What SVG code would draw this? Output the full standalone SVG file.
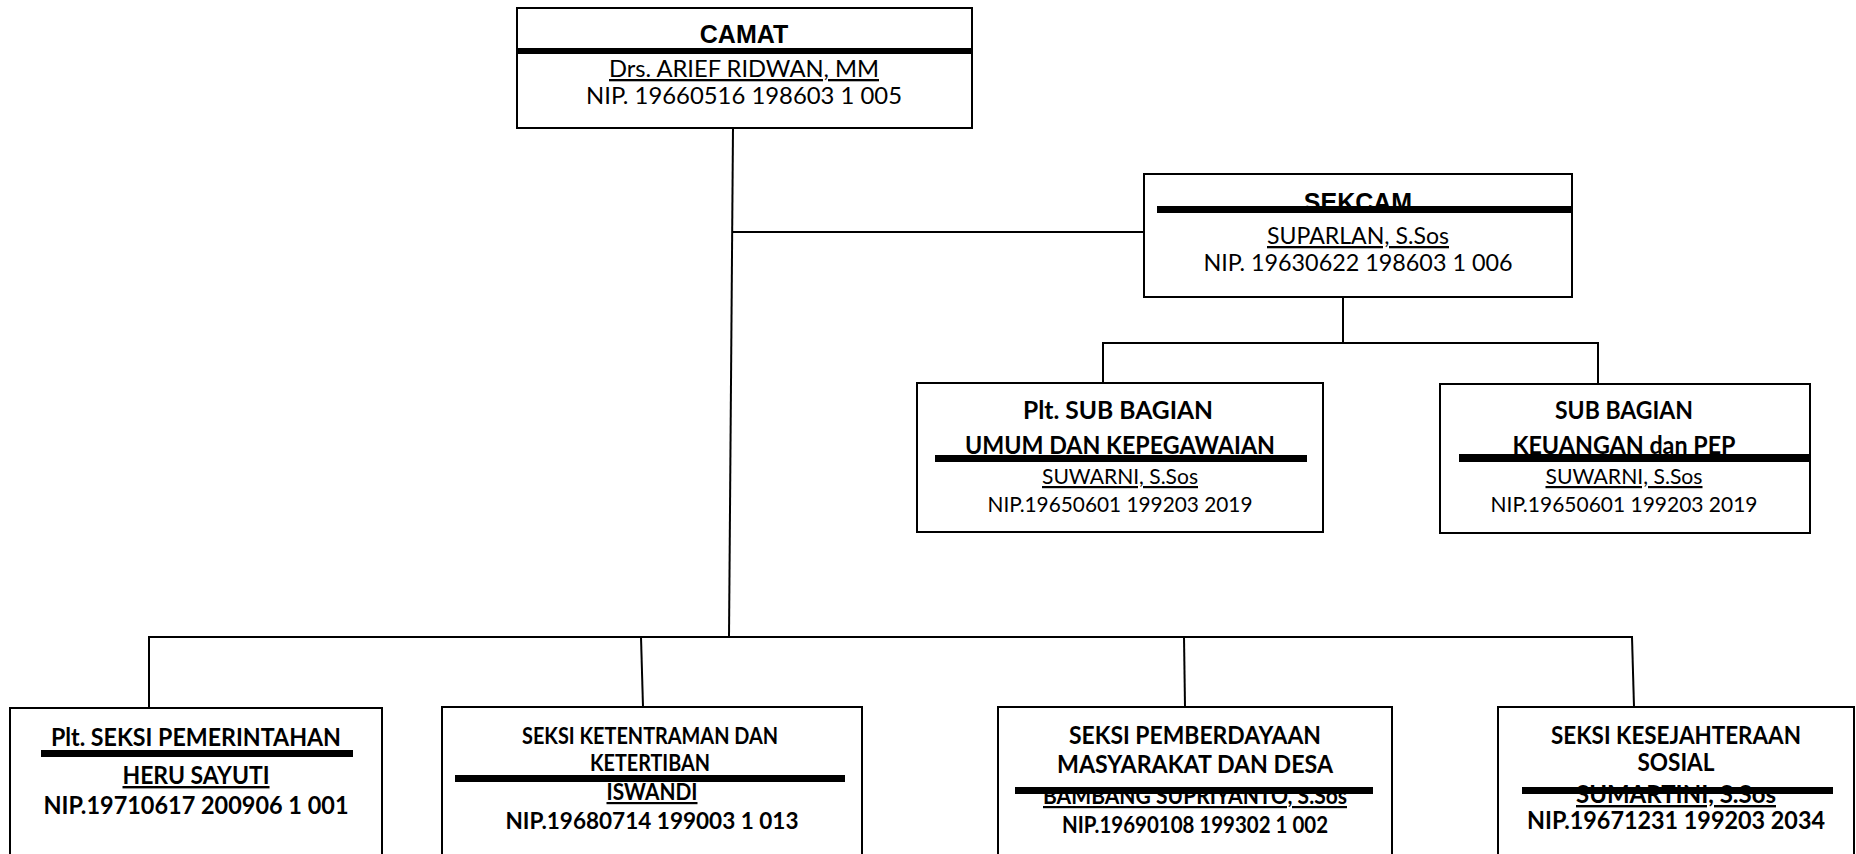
<svg xmlns="http://www.w3.org/2000/svg" width="1856" height="854" viewBox="0 0 1856 854">
<style>
.box{fill:#fff;stroke:#000;stroke-width:2}
.bar{fill:#000}
.conn{stroke:#000;stroke-width:2;fill:none}
.hd{font-family:"Liberation Sans",Arial,sans-serif;font-weight:700;font-size:25px;text-anchor:middle;fill:#000}
.t{font-family:Lato,"Open Sans",sans-serif;text-anchor:middle;fill:#000}
.b{font-weight:700}
.u{text-decoration:underline}
</style>
<rect width="1856" height="854" fill="#fff"/>
<g id="connectors">
<line class="conn" x1="733" y1="128" x2="729" y2="637"/>
<line class="conn" x1="733" y1="232" x2="1144" y2="232"/>
<line class="conn" x1="1343" y1="297" x2="1343" y2="343"/>
<line class="conn" x1="1102" y1="343" x2="1599" y2="343"/>
<line class="conn" x1="1103" y1="343" x2="1103" y2="383"/>
<line class="conn" x1="1598" y1="343" x2="1598" y2="384"/>
<line class="conn" x1="148" y1="637" x2="1633" y2="637"/>
<line class="conn" x1="149" y1="637" x2="149" y2="708"/>
<line class="conn" x1="641" y1="637" x2="643" y2="707"/>
<line class="conn" x1="1184" y1="637" x2="1185" y2="707"/>
<line class="conn" x1="1632" y1="637" x2="1634" y2="707"/>
</g>
<g id="camat">
<rect class="box" x="517" y="8" width="455" height="120"/>
<text class="hd" x="744" y="43">CAMAT</text>
<rect class="bar" x="517" y="48" width="455" height="6"/>
<text class="t u" x="744" y="77" font-size="23" textLength="270" lengthAdjust="spacingAndGlyphs">Drs. ARIEF RIDWAN, MM</text>
<text class="t" x="744" y="104" font-size="23" textLength="316" lengthAdjust="spacingAndGlyphs">NIP. 19660516 198603 1 005</text>
</g>
<g id="sekcam">
<rect class="box" x="1144" y="174" width="428" height="123"/>
<text class="hd" x="1358" y="211">SEKCAM</text>
<rect class="bar" x="1157" y="206" width="415" height="7"/>
<text class="t u" x="1358" y="244" font-size="23" textLength="182" lengthAdjust="spacingAndGlyphs">SUPARLAN, S.Sos</text>
<text class="t" x="1358" y="271" font-size="23" textLength="309" lengthAdjust="spacingAndGlyphs">NIP. 19630622 198603 1 006</text>
</g>
<g id="subbag-umum">
<rect class="box" x="917" y="383" width="406" height="149"/>
<text class="t b" x="1118" y="419" font-size="24" textLength="190" lengthAdjust="spacingAndGlyphs">Plt. SUB BAGIAN</text>
<text class="t b" x="1120" y="454" font-size="24" textLength="310" lengthAdjust="spacingAndGlyphs">UMUM DAN KEPEGAWAIAN</text>
<rect class="bar" x="935" y="455" width="372" height="7"/>
<text class="t u" x="1120" y="484" font-size="22" textLength="156" lengthAdjust="spacingAndGlyphs">SUWARNI, S.Sos</text>
<text class="t" x="1120" y="512" font-size="22" textLength="265" lengthAdjust="spacingAndGlyphs">NIP.19650601 199203 2019</text>
</g>
<g id="subbag-keuangan">
<rect class="box" x="1440" y="384" width="370" height="149"/>
<text class="t b" x="1624" y="419" font-size="24" textLength="138" lengthAdjust="spacingAndGlyphs">SUB BAGIAN</text>
<text class="t b" x="1624" y="454" font-size="24" textLength="223" lengthAdjust="spacingAndGlyphs">KEUANGAN dan PEP</text>
<rect class="bar" x="1459" y="454" width="351" height="8"/>
<text class="t u" x="1624" y="484" font-size="22" textLength="157" lengthAdjust="spacingAndGlyphs">SUWARNI, S.Sos</text>
<text class="t" x="1624" y="512" font-size="22" textLength="267" lengthAdjust="spacingAndGlyphs">NIP.19650601 199203 2019</text>
</g>
<g id="seksi-pemerintahan">
<rect class="box" x="10" y="708" width="372" height="200"/>
<text class="t b" x="196" y="746" font-size="24" textLength="290" lengthAdjust="spacingAndGlyphs">Plt. SEKSI PEMERINTAHAN</text>
<rect class="bar" x="41" y="750" width="312" height="7"/>
<text class="t b u" x="196" y="784" font-size="24" textLength="147" lengthAdjust="spacingAndGlyphs">HERU SAYUTI</text>
<text class="t b" x="196" y="814" font-size="24" textLength="305" lengthAdjust="spacingAndGlyphs">NIP.19710617 200906 1 001</text>
</g>
<g id="seksi-ketentraman">
<rect class="box" x="442" y="707" width="420" height="200"/>
<text class="t b" x="650" y="744" font-size="22" textLength="256" lengthAdjust="spacingAndGlyphs">SEKSI KETENTRAMAN DAN</text>
<text class="t b" x="650" y="771" font-size="22" textLength="120" lengthAdjust="spacingAndGlyphs">KETERTIBAN</text>
<rect class="bar" x="455" y="775" width="390" height="7"/>
<text class="t b u" x="652" y="800" font-size="22" textLength="91" lengthAdjust="spacingAndGlyphs">ISWANDI</text>
<text class="t b" x="652" y="829" font-size="22" textLength="293" lengthAdjust="spacingAndGlyphs">NIP.19680714 199003 1 013</text>
</g>
<g id="seksi-pemberdayaan">
<rect class="box" x="998" y="707" width="394" height="200"/>
<text class="t b" x="1195" y="744" font-size="24" textLength="252" lengthAdjust="spacingAndGlyphs">SEKSI PEMBERDAYAAN</text>
<text class="t b" x="1195" y="773" font-size="24" textLength="276" lengthAdjust="spacingAndGlyphs">MASYARAKAT DAN DESA</text>
<text class="t b u" x="1195" y="804" font-size="22" textLength="304" lengthAdjust="spacingAndGlyphs">BAMBANG SUPRIYANTO, S.Sos</text>
<rect class="bar" x="1015" y="787" width="358" height="7"/>
<text class="t b" x="1195" y="833" font-size="22" textLength="266" lengthAdjust="spacingAndGlyphs">NIP.19690108 199302 1 002</text>
</g>
<g id="seksi-kesejahteraan">
<rect class="box" x="1498" y="707" width="356" height="200"/>
<text class="t b" x="1676" y="744" font-size="24" textLength="250" lengthAdjust="spacingAndGlyphs">SEKSI KESEJAHTERAAN</text>
<text class="t b" x="1676" y="771" font-size="24" textLength="77" lengthAdjust="spacingAndGlyphs">SOSIAL</text>
<text class="t b u" x="1676" y="803" font-size="24" textLength="200" lengthAdjust="spacingAndGlyphs">SUMARTINI, S.Sos</text>
<rect class="bar" x="1522" y="787" width="311" height="7"/>
<text class="t b" x="1676" y="829" font-size="24" textLength="298" lengthAdjust="spacingAndGlyphs">NIP.19671231 199203 2034</text>
</g>
</svg>
